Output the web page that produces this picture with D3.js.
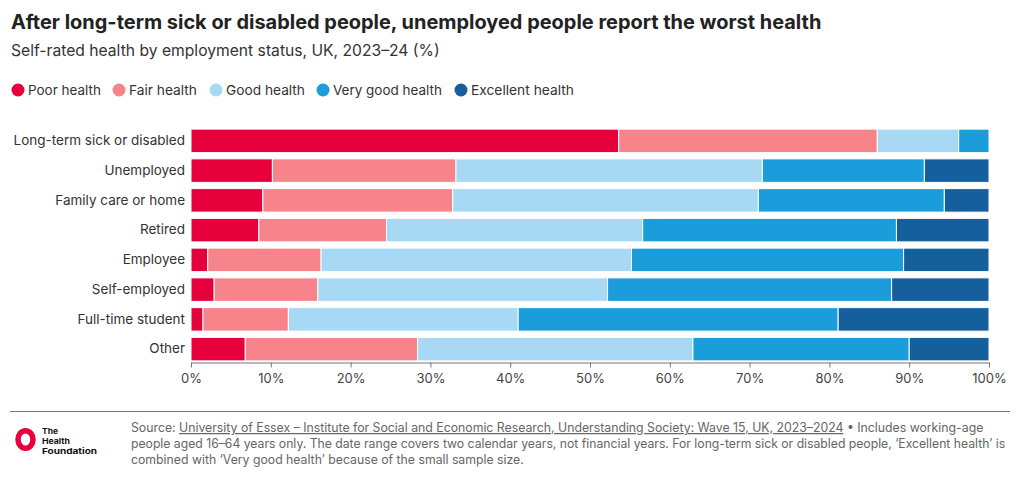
<!DOCTYPE html>
<html><head><meta charset="utf-8">
<script src="https://cdn.jsdelivr.net/npm/d3@7"></script>
<style>
body{margin:0;background:#fff;}
svg{display:block;font-family:Inter,"Noto Sans",sans-serif;}
</style></head>
<body><svg id="c" width="1020" height="477"></svg>
<script>
const categories = ["Long-term sick or disabled","Unemployed","Family care or home","Retired","Employee","Self-employed","Full-time student","Other"];
const seriesNames = ["Poor health","Fair health","Good health","Very good health","Excellent health"];
const poor      = [53.6, 10.2,  9.0,  8.5,  2.1,  2.9,  1.5,  6.8];
const fair      = [32.4, 23.0, 23.8, 16.0, 14.2, 13.0, 10.7, 21.6];
const good      = [10.2, 38.4, 38.3, 32.1, 38.9, 36.3, 28.8, 34.5];
const veryGood  = [ 3.8, 20.3, 23.3, 31.8, 34.1, 35.6, 40.1, 27.1];
const excellent = [ 0.0,  8.1,  5.6, 11.6, 10.7, 12.2, 18.9, 10.0];
const tickValues = [0,10,20,30,40,50,60,70,80,90,100];
const colors = ["#E6003C","#F8848B","#A7D9F4","#1B9DDB","#145F9C"];

const svg = d3.select("#c");
const seriesValues = [poor, fair, good, veryGood, excellent];
const rows = categories.map((c,i)=>{const o={cat:c}; seriesNames.forEach((s,j)=>o[s]=seriesValues[j][i]); return o;});
const stack = d3.stack().keys(seriesNames)(rows);

const x = d3.scaleLinear().domain([0,100]).range([191,989]);
const y = d3.scaleBand().domain(categories).range([126,364]).paddingInner(0.21).paddingOuter(0.105);
const color = d3.scaleOrdinal().domain(seriesNames).range(colors);

function fitText(sel, target){
  const n = sel.node(); const w = n.getComputedTextLength();
  const fs = parseFloat(sel.attr("font-size"));
  sel.attr("font-size", fs*target/w);
}

// Title
const title = svg.append("text").attr("x",11).attr("y",29).attr("font-size",19).attr("font-weight",700).attr("fill","#222")
  .text("After long-term sick or disabled people, unemployed people report the worst health");
fitText(title, 811);
const sub = svg.append("text").attr("x",11).attr("y",56).attr("font-size",15).attr("fill","#333")
  .text("Self-rated health by employment status, UK, 2023–24 (%)");
fitText(sub, 429);

// Legend
const legX = [18,119,216,323,461];
const legEnd = [101,197,305,442,574];
seriesNames.forEach((s,i)=>{
  svg.append("circle").attr("cx",legX[i]).attr("cy",90).attr("r",6.5).attr("fill",color(s));
  const t = svg.append("text").attr("x",legX[i]+10).attr("y",95).attr("font-size",13).attr("fill","#333").text(s);
  fitText(t, legEnd[i]-(legX[i]+10));
});

// Bars
svg.append("g").selectAll("g").data(stack).join("g").attr("fill",d=>color(d.key))
  .selectAll("rect").data(d=>d).join("rect")
  .attr("x",d=>x(d[0])).attr("width",d=>Math.max(0,x(d[1])-x(d[0])))
  .attr("y",d=>y(d.data.cat)).attr("height",y.bandwidth())
  .attr("stroke","#fff").attr("stroke-width",1);

// Y labels
const yAxis = svg.append("g").attr("transform","translate(185,0)")
  .call(d3.axisLeft(y).tickSize(0).tickPadding(0));
yAxis.select(".domain").remove();
yAxis.selectAll("text").attr("font-size",13.5).attr("fill","#333").attr("font-family","Inter,'Noto Sans',sans-serif");

// X axis
const xAxis = svg.append("g").attr("transform","translate(0,362.5)")
  .call(d3.axisBottom(x).tickValues(tickValues).tickFormat(d=>d+"%").tickSize(5).tickSizeOuter(0).tickPadding(6));
xAxis.select(".domain").attr("stroke","#777");
xAxis.selectAll(".tick line").attr("stroke","#777");
xAxis.selectAll("text").attr("font-size",13).attr("fill","#444").attr("font-family","Inter,'Noto Sans',sans-serif");

// Footer rule
svg.append("line").attr("x1",10).attr("x2",1010).attr("y1",411.5).attr("y2",411.5).attr("stroke","#777").attr("stroke-width",1);

// Logo
svg.append("ellipse").attr("cx",25.5).attr("cy",439.5).attr("rx",7.5).attr("ry",8.8).attr("fill","none").attr("stroke","#E6003C").attr("stroke-width",5.5);
const logoWords = ["The","Health","Foundation"];
const logoW = [16,28,55];
logoWords.forEach((t,i)=>{
  svg.append("text").attr("x",42).attr("y",434+i*9.8).attr("font-size",7.8).attr("font-weight",700).attr("fill","#111")
    .attr("textLength",logoW[i]).attr("lengthAdjust","spacingAndGlyphs").text(t);
});

// Footnote
const fcol = "#666";
const l1 = svg.append("text").attr("x",131).attr("y",432).attr("font-size",12.5).attr("fill",fcol);
l1.append("tspan").text("Source: ");
l1.append("tspan").attr("text-decoration","underline").text("University of Essex – Institute for Social and Economic Research, Understanding Society: Wave 15, UK, 2023–2024");
l1.append("tspan").text(" • Includes working-age");
const l2 = svg.append("text").attr("x",131).attr("y",448).attr("font-size",12.5).attr("fill",fcol)
  .text("people aged 16–64 years only. The date range covers two calendar years, not financial years. For long-term sick or disabled people, ‘Excellent health’ is");
const l3 = svg.append("text").attr("x",131).attr("y",464).attr("font-size",12.5).attr("fill",fcol)
  .text("combined with ‘Very good health’ because of the small sample size.");
function squeeze(sel, target){
  const w = sel.node().getComputedTextLength();
  sel.attr("transform",`translate(131,0) scale(${target/w},1) translate(-131,0)`);
}
squeeze(l1, 985-131); squeeze(l2, 1006-131); squeeze(l3, 524-131);
</script></body></html>
